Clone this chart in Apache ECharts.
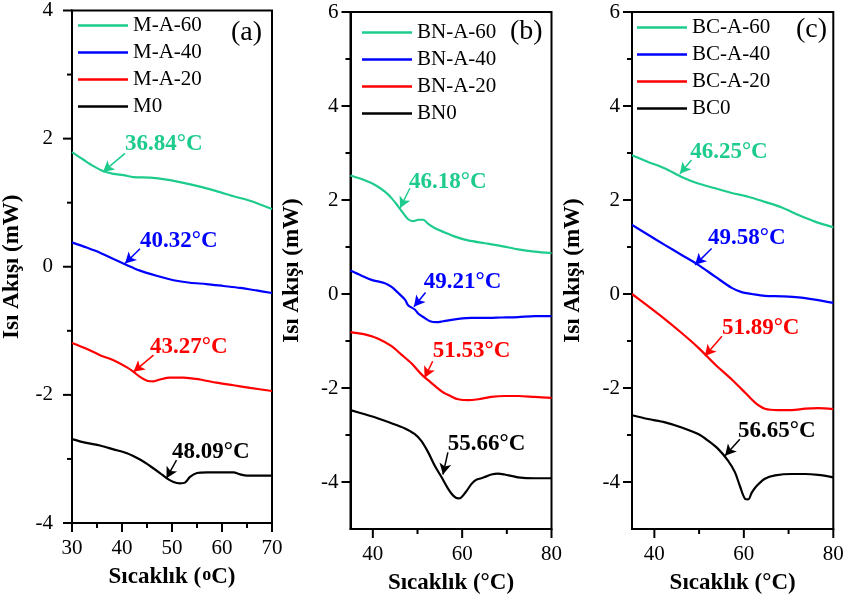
<!DOCTYPE html>
<html><head><meta charset="utf-8">
<script src="https://cdn.jsdelivr.net/npm/echarts@6/dist/echarts.min.js"></script>
<style>html,body{margin:0;padding:0;background:#fff}#c{width:851px;height:605px}</style>
</head><body><div id="c"></div>
<script>
// ---------- Panel (a) data ----------
const MA60_T = [30,32.3,34.3,36.3,38.3,40.3,42.3,45.6,48.9,52.3,55.6,58.9,62.3,65.6,70];
const MA60_V = [1.79,1.67,1.57,1.49,1.45,1.43,1.40,1.39,1.36,1.31,1.25,1.18,1.10,1.03,0.90];
const MA40_T = [30,32.9,35.6,38.3,40.6,43.6,46.9,50.3,53.6,56.9,60.3,63.6,66.9,70];
const MA40_V = [0.38,0.30,0.22,0.12,0.04,-0.06,-0.14,-0.21,-0.25,-0.27,-0.30,-0.33,-0.37,-0.41];
const MA20_T = [30,32.9,35.6,38.3,41.0,42.3,43.6,45,46.3,47.6,49.6,52.3,55.6,58.9,62.3,65.6,70];
const MA20_V = [-1.19,-1.28,-1.38,-1.46,-1.57,-1.64,-1.72,-1.78,-1.79,-1.76,-1.73,-1.73,-1.76,-1.81,-1.85,-1.89,-1.94];
const M0_T = [30,32.9,35.6,38.3,41,43.6,45.6,47.6,48.9,50.3,51.6,52.6,53.6,55,57,59.7,62.3,63.6,65,67.6,70];
const M0_V = [-2.69,-2.75,-2.79,-2.85,-2.91,-3.01,-3.11,-3.22,-3.30,-3.36,-3.38,-3.37,-3.28,-3.22,-3.21,-3.21,-3.21,-3.24,-3.26,-3.26,-3.26];

// ---------- Panel (b) data ----------
const BNA60_T = [35,38.2,40.5,42.7,44.2,45.7,46.8,47.9,49.0,50.2,51.3,52.4,53.9,56.1,58.4,61.3,65.1,68.8,72.5,76.2,80];
const BNA60_V = [2.52,2.42,2.32,2.18,2.04,1.86,1.72,1.59,1.55,1.58,1.58,1.49,1.40,1.31,1.22,1.14,1.08,1.02,0.95,0.90,0.87];
const BNA40_T = [35,37.5,39.7,42.7,44.2,45.7,47.2,47.9,49.4,50.2,51.6,52.8,54.3,55.7,56.9,59.1,62.1,65.1,68.8,72.5,76.2,80];
const BNA40_V = [0.50,0.39,0.30,0.23,0.15,0.02,-0.12,-0.24,-0.33,-0.42,-0.51,-0.58,-0.60,-0.58,-0.56,-0.53,-0.51,-0.51,-0.50,-0.49,-0.47,-0.47];
const BNA20_T = [35,38.2,41.2,44.2,46.4,48.7,50.9,53.1,55.4,57.6,59.1,61.3,63.6,66.5,69.5,72.5,76.2,80];
const BNA20_V = [-0.81,-0.86,-0.95,-1.11,-1.29,-1.48,-1.71,-1.89,-2.07,-2.18,-2.24,-2.26,-2.24,-2.19,-2.17,-2.17,-2.19,-2.21];
const BN0_T = [35,38.2,41.2,44.2,47.2,49.4,50.9,52.4,53.9,55.4,56.9,58.0,59.1,59.8,61.0,62.1,63.2,64.3,65.4,66.5,68.0,69.5,72.5,76.2,80];
const BN0_V = [-2.47,-2.56,-2.65,-2.75,-2.86,-2.98,-3.13,-3.37,-3.66,-3.90,-4.15,-4.29,-4.35,-4.33,-4.19,-4.04,-3.95,-3.92,-3.88,-3.84,-3.82,-3.84,-3.90,-3.92,-3.92];

// ---------- Panel (c) data ----------
const BCA60_T = [35,38.6,42.4,46.1,49.8,53.6,57.3,61.0,64.7,68.5,72.2,75.9,80];
const BCA60_V = [2.95,2.81,2.67,2.49,2.35,2.25,2.15,2.07,1.96,1.84,1.68,1.54,1.42];
const BCA40_T = [35,38.6,42.4,46.1,49.8,53.6,57.3,59.5,61.8,64.7,68.5,72.2,75.9,80];
const BCA40_V = [1.47,1.26,1.04,0.83,0.62,0.37,0.13,0.04,0.0,-0.04,-0.05,-0.07,-0.12,-0.19];
const BCA20_T = [35,38.6,42.4,46.1,49.8,53.6,57.3,60.3,62.5,64.7,67.7,70.7,73.7,76.6,80];
const BCA20_V = [0.0,-0.26,-0.54,-0.83,-1.14,-1.50,-1.82,-2.10,-2.31,-2.44,-2.47,-2.47,-2.44,-2.43,-2.45];
const BC0_T = [35,38.6,42.4,46.1,49.8,52.0,54.3,56.5,58.0,59.1,60.3,61.0,61.8,62.9,64.7,67.0,70.7,73.7,76.6,80];
const BC0_V = [-2.58,-2.66,-2.73,-2.84,-2.98,-3.12,-3.30,-3.55,-3.79,-4.08,-4.36,-4.37,-4.22,-4.08,-3.93,-3.86,-3.83,-3.83,-3.85,-3.90];

// ---------- Series names ----------
const namesA = ['M-A-60','M-A-40','M-A-20','M0'];
const namesB = ['BN-A-60','BN-A-40','BN-A-20','BN0'];
const namesC = ['BC-A-60','BC-A-40','BC-A-20','BC0'];

// ---------- Annotations (data coordinates) ----------
const annA_text = ['36.84°C','40.32°C','43.27°C','48.09°C'];
const annA_tip = [[36.2,1.48],[40.6,0.05],[42.3,-1.64],[48.9,-3.30]];
const annA_from = [[40.6,1.77],[43.6,0.28],[46.3,-1.38],[50.9,-3.02]];
const annA_lab = [[40.6,1.91],[43.6,0.40],[45.6,-1.25],[50.0,-2.89]];

const annB_text = ['46.18°C','49.21°C','51.53°C','55.66°C'];
const annB_tip = [[46.1,1.83],[49.2,-0.27],[51.6,-1.78],[55.7,-3.84]];
const annB_from = [[48.3,2.25],[51.8,0.03],[53.4,-1.43],[56.8,-3.37]];
const annB_lab = [[48.1,2.38],[51.4,0.26],[53.4,-1.22],[56.8,-3.20]];

const annC_text = ['46.25°C','49.58°C','51.89°C','56.65°C'];
const annC_tip = [[45.7,2.56],[49.1,0.62],[51.3,-1.32],[55.8,-3.44]];
const annC_from = [[48.3,2.85],[52.8,0.97],[55.1,-0.90],[59.1,-3.09]];
const annC_lab = [[48.0,3.02],[52.0,1.19],[55.1,-0.72],[58.7,-2.91]];

// ---------- Axis ranges / ticks ----------
const xRangeA = [30,70], yRangeA = [-4,4];
const xRangeBC = [35,80], yRangeBC = [-5,6];
const xLabelsA = [30,40,50,60,70], xMinorA = [35,45,55,65];
const yLabelsA = [-4,-2,0,2,4], yMinorA = [-3,-1,1,3];
const xLabelsBC = [40,60,80], xMinorBC = [50,70];
const yLabelsBC = [-4,-2,0,2,4,6], yMinorBC = [-3,-1,1,3,5];
const panelTags = ['(a)','(b)','(c)'];

const FONT = 'Liberation Serif';
const COLORS = ['#1DCC8C','#0000FF','#FF0000','#000000'];

const zip = (t,v) => t.map((x,i)=>[x,v[i]]);

const panelData = [
  {names:namesA, series:[zip(MA60_T,MA60_V),zip(MA40_T,MA40_V),zip(MA20_T,MA20_V),zip(M0_T,M0_V)],
   ann:[annA_text,annA_tip,annA_from,annA_lab]},
  {names:namesB, series:[zip(BNA60_T,BNA60_V),zip(BNA40_T,BNA40_V),zip(BNA20_T,BNA20_V),zip(BN0_T,BN0_V)],
   ann:[annB_text,annB_tip,annB_from,annB_lab]},
  {names:namesC, series:[zip(BCA60_T,BCA60_V),zip(BCA40_T,BCA40_V),zip(BCA20_T,BCA20_V),zip(BC0_T,BC0_V)],
   ann:[annC_text,annC_tip,annC_from,annC_lab]}
];

// layout (pixels)
const layout = [
  {left:72, top:8, width:200, height:515, xr:xRangeA, yr:yRangeA, yMargin:19,
   xLab:xLabelsA, xMin:xMinorA, yLab:yLabelsA, yMin:yMinorA,
   legendLeft:78, legendTop:15, tagLeft:231, tagTop:19},
  {left:350.5, top:12, width:201, height:517, xr:xRangeBC, yr:yRangeBC, yMargin:12,
   xLab:xLabelsBC, xMin:xMinorBC, yLab:yLabelsBC, yMin:yMinorBC,
   legendLeft:362, legendTop:22, tagLeft:510, tagTop:18},
  {left:632, top:12, width:201.3, height:517, xr:xRangeBC, yr:yRangeBC, yMargin:12,
   xLab:xLabelsBC, xMin:xMinorBC, yLab:yLabelsBC, yMin:yMinorBC,
   legendLeft:637, legendTop:17, tagLeft:796, tagTop:16}
];

const MAJOR = 9, MINOR = 5, TICKW = 2;
const grid = [], xAxis = [], yAxis = [], series = [], legend = [], title = [];
const axisLine = {show:true, onZero:false, lineStyle:{color:'#000', width:2}};
const labelStyle = {fontFamily:FONT, fontSize:21, color:'#000'};

layout.forEach((L, i) => {
  grid.push({left:L.left, top:L.top, width:L.width, height:L.height, show:true,
             borderColor:'#000', borderWidth:2, containLabel:false});
  const xName = i === 0 ? 'Sıcaklık ({s|o}C)' : 'Sıcaklık (°C)';
  xAxis.push({type:'value', gridIndex:i, min:L.xr[0], max:L.xr[1], position:'bottom',
    name:xName, nameLocation:'middle', nameGap:43,
    nameTextStyle:{fontFamily:FONT, fontSize:23, fontWeight:'bold', color:'#000',
      rich:{s:{fontFamily:FONT, fontSize:18, fontWeight:'bold', color:'#000', verticalAlign:'top', padding:[0,0,0,1]}}},
    axisLine, splitLine:{show:false}, axisTick:{show:false},
    axisLabel:Object.assign({show:true, customValues:L.xLab, margin:15}, labelStyle)
  });
  yAxis.push({type:'value', gridIndex:i, min:L.yr[0], max:L.yr[1], position:'left',
    name:'Isı Akışı (mW)', nameLocation:'middle', nameGap:i===0?48:47, nameRotate:90,
    nameTextStyle:{fontFamily:FONT, fontSize:23, fontWeight:'bold', color:'#000'},
    axisLine, splitLine:{show:false}, axisTick:{show:false},
    axisLabel:Object.assign({show:true, customValues:L.yLab, margin:L.yMargin}, labelStyle)
  });
  legend.push({orient:'vertical', left:L.legendLeft, top:L.legendTop, padding:0,
    data:panelData[i].names, icon:'rect', itemWidth:50, itemHeight:2.5, itemGap:6,
    textStyle:{fontFamily:FONT, fontSize:21, color:'#000'}, selectedMode:false});
  title.push({text:panelTags[i], left:L.tagLeft, top:L.tagTop, padding:0,
    textStyle:{fontFamily:FONT, fontSize:28, fontWeight:'normal', color:'#000'}});

  const P = panelData[i];
  P.series.forEach((d, k) => {
    const [txt, tip, from, lab] = P.ann;
    series.push({
      type:'line', name:P.names[k], xAxisIndex:i, yAxisIndex:i, data:d,
      symbol:'none', smooth:0.3, lineStyle:{color:COLORS[k], width:2.2}, itemStyle:{color:COLORS[k]},
      z:3,
      markLine:{silent:true, symbol:['none','arrow'], symbolSize:[9,11], animation:false,
        label:{show:false}, lineStyle:{color:COLORS[k], width:1.5, type:'solid'},
        data:[[{coord:from[k]},{coord:tip[k]}]]},
      markPoint:{silent:true, symbol:'circle', symbolSize:0, animation:false,
        label:{show:true, position:'right', distance:0, formatter:txt[k],
          fontFamily:FONT, fontSize:23, fontWeight:'bold', color:COLORS[k]},
        data:[{coord:lab[k]}]}
    });
  });

  // Outward tick marks placed through the axes' own scales (custom series, not clipped).
  const xTickData = L.xLab.map(v=>[v,1]).concat(L.xMin.map(v=>[v,0]));
  const yTickData = L.yLab.map(v=>[v,1]).concat(L.yMin.map(v=>[v,0]));
  series.push({type:'custom', xAxisIndex:i, yAxisIndex:i, clip:false, silent:true, z:5,
    data:xTickData.map(d=>[d[0], 0, d[1]]), encode:{x:0, y:1},
    renderItem:(params, api) => {
      const p = api.coord([api.value(0), L.yr[0]]);
      const len = api.value(2) ? MAJOR : MINOR;
      return {type:'line', shape:{x1:p[0], y1:p[1], x2:p[0], y2:p[1]+len},
              style:{stroke:'#000', lineWidth:TICKW}};
    }});
  series.push({type:'custom', xAxisIndex:i, yAxisIndex:i, clip:false, silent:true, z:5,
    data:yTickData.map(d=>[L.xr[0], d[0], d[1]]), encode:{x:0, y:1},
    renderItem:(params, api) => {
      const p = api.coord([L.xr[0], api.value(1)]);
      const len = api.value(2) ? MAJOR : MINOR;
      return {type:'line', shape:{x1:p[0], y1:p[1], x2:p[0]-len, y2:p[1]},
              style:{stroke:'#000', lineWidth:TICKW}};
    }});
});

const chart = echarts.init(document.getElementById('c'), null, {renderer:'canvas'});
chart.setOption({animation:false, backgroundColor:'#fff', grid, xAxis, yAxis, series, legend, title});
</script></body></html>
